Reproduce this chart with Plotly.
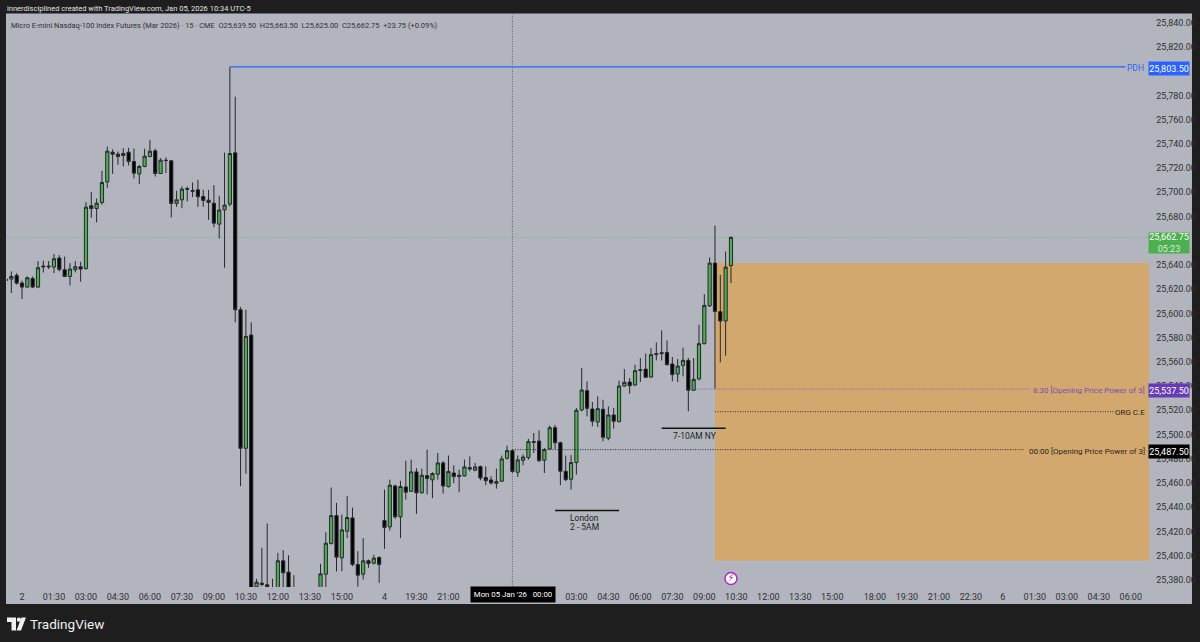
import plotly.graph_objects as go

FIRST_BAR = -3
opens = [
 25628.3,25628.3,25631.4,25625.0,25621.7,25628.9,25621.7,25639.1,25639.1,25638.2,
 25645.7,25636.0,25630.5,25636.0,25638.5,25637.1,25688.8,25686.6,25691.6,25708.6,
 25733.1,25731.5,25730.4,25733.1,25725.4,25715.2,25721.3,25729.5,25734.2,25715.5,
 25726.5,25726.0,25690.8,25693.8,25703.1,25701.5,25702.0,25696.5,25693.5,25691.0,
 25673.7,25685.5,25690.2,25732.6,25603.0,25488.6,25582.1,25374.2,25377.2,25375.9,
 25366.0,25370.0,25395.7,25386.3,25368.0,25364.0,25361.0,25358.0,25360.0,25366.0,
 25384.6,25410.0,25433.0,25398.1,25420.1,25431.1,25392.6,25384.6,25395.7,25393.7,
 25398.4,25428.9,25423.7,25457.5,25432.0,25456.7,25453.1,25469.1,25451.8,25466.0,
 25462.5,25467.2,25476.5,25457.0,25468.2,25465.2,25465.8,25472.6,25470.5,25473.5,
 25464.4,25462.5,25459.7,25461.4,25480.4,25486.7,25468.8,25478.7,25480.9,25494.1,
 25494.6,25478.7,25488.0,25505.6,25493.2,25469.6,25463.0,25476.8,25520.2,25536.2,
 25521.0,25510.3,25520.8,25496.9,25516.1,25510.6,25540.0,25543.3,25540.8,25553.5,
 25554.0,25547.4,25565.9,25566.7,25567.8,25558.2,25549.9,25557.1,25561.2,25536.5,
 25545.8,25575.0,25606.3,25641.5,25601.4,25593.7,25639.5]
highs = [
 25636.0,25634.7,25633.3,25627.0,25630.5,25630.5,25643.2,25643.5,25643.2,25649.0,
 25648.1,25647.0,25641.5,25643.2,25642.6,25691.9,25700.4,25694.9,25717.7,25737.8,
 25735.6,25733.7,25736.4,25736.7,25736.1,25722.7,25735.9,25743.3,25735.9,25728.2,
 25728.7,25726.8,25701.2,25704.8,25704.8,25708.1,25710.3,25702.0,25702.0,25705.9,
 25697.1,25732.8,25803.5,25779.0,25605.2,25603.0,25592.6,25380.8,25406.4,25426.5,
 25380.8,25402.3,25404.5,25400.3,25383.8,25369.0,25368.0,25366.0,25370.0,25393.2,
 25419.3,25456.2,25443.5,25433.9,25449.0,25439.6,25403.6,25414.4,25396.7,25400.6,
 25399.5,25454.5,25462.7,25458.6,25461.7,25478.4,25479.2,25472.1,25471.8,25487.5,
 25468.8,25484.7,25478.1,25482.6,25474.6,25471.0,25479.2,25482.0,25476.5,25474.3,
 25473.7,25465.5,25471.8,25482.6,25490.8,25487.2,25482.6,25483.4,25496.3,25501.2,
 25503.4,25488.9,25507.3,25507.9,25494.1,25482.6,25483.1,25521.9,25554.9,25543.9,
 25526.8,25531.5,25528.7,25523.2,25521.9,25544.4,25554.0,25546.6,25557.6,25563.1,
 25566.7,25571.4,25576.0,25586.0,25577.7,25564.0,25562.3,25571.7,25563.1,25563.1,
 25590.6,25615.9,25646.2,25672.6,25631.9,25651.1,25663.5]
lows = [
 25620.9,25616.8,25623.7,25611.8,25621.2,25620.9,25621.2,25633.8,25636.6,25633.3,
 25634.7,25630.0,25623.1,25633.8,25626.1,25636.0,25678.9,25675.1,25689.7,25703.7,
 25715.2,25722.7,25721.3,25722.1,25711.4,25706.7,25720.7,25729.0,25713.0,25715.2,
 25715.8,25679.2,25688.0,25686.9,25692.4,25696.0,25688.0,25688.0,25677.3,25671.2,
 25661.9,25637.7,25688.3,25592.6,25457.3,25467.7,25370.0,25372.0,25374.8,25372.0,
 25364.0,25366.0,25372.0,25365.0,25360.0,25358.0,25355.0,25352.0,25356.0,25362.0,
 25373.9,25409.1,25386.9,25387.1,25414.4,25391.2,25374.2,25380.2,25389.9,25392.6,
 25377.5,25405.5,25420.7,25430.3,25414.4,25446.2,25452.6,25434.4,25451.2,25450.4,
 25447.4,25462.7,25451.2,25456.2,25459.7,25452.3,25465.2,25469.6,25469.6,25462.2,
 25458.1,25458.6,25455.3,25460.8,25479.2,25468.2,25464.9,25474.6,25479.2,25484.7,
 25477.3,25468.2,25487.5,25488.0,25458.1,25461.4,25454.5,25466.9,25519.1,25515.0,
 25506.7,25506.2,25494.4,25495.2,25504.8,25510.0,25539.7,25533.7,25540.3,25543.3,
 25546.6,25546.9,25561.2,25561.2,25557.1,25543.9,25543.3,25548.0,25519.1,25535.9,
 25544.7,25574.4,25605.2,25537.8,25559.6,25565.1,25625.0]
closes = [
 25627.2,25630.5,25625.0,25621.7,25629.4,25621.7,25637.7,25638.5,25638.5,25645.1,
 25636.3,25630.5,25636.6,25638.5,25636.6,25687.7,25686.6,25691.0,25708.1,25733.9,
 25731.5,25729.5,25732.0,25725.4,25715.8,25721.3,25729.8,25733.9,25715.5,25726.5,
 25726.2,25690.8,25693.8,25702.6,25702.6,25700.9,25696.3,25693.3,25691.6,25674.5,
 25685.3,25689.4,25732.0,25603.0,25488.6,25581.0,25372.0,25378.0,25376.1,25374.2,
 25371.0,25395.7,25385.8,25368.0,25364.0,25361.0,25358.0,25360.0,25365.0,25384.9,
 25410.2,25433.0,25398.7,25421.2,25431.4,25392.6,25383.8,25395.7,25393.4,25397.9,
 25392.6,25423.1,25458.1,25432.0,25457.0,25452.3,25469.1,25451.8,25466.3,25463.6,
 25467.7,25476.5,25457.5,25469.4,25465.2,25466.3,25473.2,25471.5,25473.2,25464.1,
 25461.9,25460.0,25461.1,25479.8,25486.7,25469.4,25479.0,25481.4,25494.1,25493.5,
 25478.4,25487.5,25505.6,25493.2,25469.6,25462.7,25476.8,25520.0,25536.7,25521.6,
 25510.9,25521.3,25497.7,25516.1,25510.9,25540.0,25543.0,25540.3,25552.7,25552.9,
 25547.2,25565.9,25566.7,25567.5,25557.6,25549.4,25556.5,25561.2,25536.5,25545.5,
 25575.0,25606.6,25641.5,25601.6,25593.7,25638.2,25662.75]

tick_bars = [0,6,12,18,24,30,36,42,48,54,60,68,74,80,104,110,116,122,128,134,140,146,152,160,166,172,178,184,190,196,202,208]
tick_texts = ["2","01:30","03:00","04:30","06:00","07:30","09:00","10:30","12:00","13:30","15:00","4","19:30","21:00",
              "03:00","04:30","06:00","07:30","09:00","10:30","12:00","13:30","15:00","18:00","19:30","21:00","22:30","6","01:30","03:00","04:30","06:00"]
price_ticks = [25380,25400,25420,25440,25460,25480,25500,25520,25540,25560,25580,25600,25620,25640,
               25680,25700,25720,25740,25760,25780,25820,25840]

PDH = 25803.5
LAST = 25662.75
OPEN_830 = 25537.5
OPEN_00 = 25487.5
ORG_CE = 25518.8
ZONE_TOP = 25641.5
ZONE_BOTTOM = 25396.0
LONDON_PRICE = 25437.2
NY_PRICE = 25505.2
CROSS_BAR = 92
ZONE_BAR = 130
PDH_BAR = 39

L, R, T, B = 7, 1149.5, 14, 587.5
def px(x): return (x - L) / (R - L)
def py(y): return (B - y) / (B - T)

bars = list(range(FIRST_BAR, FIRST_BAR + len(opens)))
NARROW = "Liberation Sans Narrow, Roboto"
FONT = "Roboto"
TICK = "#2f3136"
FINE_DOT = "1px,1.5px"

fig = go.Figure()
fig.add_trace(go.Candlestick(
    x=bars, open=opens, high=highs, low=lows, close=closes,
    increasing=dict(line=dict(color="#26282c", width=1), fillcolor="#4caf50"),
    decreasing=dict(line=dict(color="#26282c", width=1), fillcolor="#000000"),
    whiskerwidth=0, showlegend=False, hoverinfo="skip"))
fig.add_trace(go.Scatter(
    x=[133], y=[25381], mode="markers+text", text=["⚡"], textposition="middle center",
    textfont=dict(size=10, color="#b026c9", family="DejaVu Sans"),
    marker=dict(size=12, color="white", line=dict(color="#b026c9", width=1.5)),
    showlegend=False, hoverinfo="skip", cliponaxis=False))

shapes = []
shapes.append(dict(type="rect", xref="paper", yref="paper", x0=px(6), x1=px(1192.5), y0=py(604.5), y1=py(13.5),
                   fillcolor="#b2b5be", line=dict(color="#b2b5be", width=0), layer="below"))
shapes.append(dict(type="rect", xref="x", yref="y", x0=ZONE_BAR, x1=212, y0=ZONE_BOTTOM, y1=ZONE_TOP,
                   fillcolor="#d2a86e", line=dict(width=0), layer="below"))
shapes.append(dict(type="line", xref="x", yref="paper", x0=CROSS_BAR, x1=CROSS_BAR, y0=0, y1=1,
                   line=dict(color="#5d6068", width=1, dash=FINE_DOT), layer="below"))
shapes.append(dict(type="line", xref="paper", yref="y", x0=0, x1=1, y0=LAST, y1=LAST,
                   line=dict(color="#6fc07a", width=1, dash=FINE_DOT), layer="below"))
shapes.append(dict(type="line", xref="x", yref="y", x0=PDH_BAR, x1=207, y0=PDH, y1=PDH,
                   line=dict(color="#2962ff", width=1.2)))
shapes.append(dict(type="line", xref="x", yref="y", x0=126.5, x1=189, y0=OPEN_830, y1=OPEN_830,
                   line=dict(color="#8e5bc4", width=1, dash=FINE_DOT)))
shapes.append(dict(type="line", xref="x", yref="y", x0=130, x1=205, y0=ORG_CE, y1=ORG_CE,
                   line=dict(color="#2e2a25", width=1, dash=FINE_DOT)))
shapes.append(dict(type="line", xref="x", yref="y", x0=CROSS_BAR, x1=188, y0=OPEN_00, y1=OPEN_00,
                   line=dict(color="#2e2a25", width=1, dash=FINE_DOT)))
shapes.append(dict(type="line", xref="x", yref="y", x0=100, x1=112, y0=LONDON_PRICE, y1=LONDON_PRICE,
                   line=dict(color="#111111", width=1.5)))
shapes.append(dict(type="line", xref="x", yref="y", x0=120, x1=132, y0=NY_PRICE, y1=NY_PRICE,
                   line=dict(color="#111111", width=1.5)))
def poly(pts):
    return "M " + " L ".join(f"{px(a):.5f},{py(b):.5f}" for a, b in pts) + " Z"
glyph = poly([(7,618),(16,618),(16,631),(11.5,631),(11.5,622.5),(7,622.5)]) + " " + \
        poly([(21.5,618),(26,618),(21,631),(16.5,631)])
shapes.append(dict(type="path", xref="paper", yref="paper", path=glyph, fillcolor="#f0f0f0", line=dict(width=0)))
shapes.append(dict(type="circle", xref="paper", yref="paper", x0=px(16.8), x1=px(21), y0=py(622.4), y1=py(618),
                   fillcolor="#f0f0f0", line=dict(width=0)))

def note(text, x, y, size=8, color="#2a2a2a", anchor="left", font=FONT):
    return dict(text=text, xref="paper", yref="paper", x=px(x), y=py(y), xanchor=anchor, yanchor="middle",
                showarrow=False, font=dict(family=font, size=size, color=color))
def badge(text, y, bg, h=13):
    return dict(text=text, xref="paper", yref="paper", x=px(1170), y=py(y), xanchor="center", yanchor="middle",
                showarrow=False, bgcolor=bg, width=40, height=h, borderpad=0,
                font=dict(family=NARROW, size=9, color="white"))
def dnote(text, bar, price, size=8.5):
    return dict(text=text, xref="x", yref="y", x=bar, y=price, xanchor="center", yanchor="middle",
                showarrow=False, font=dict(family=FONT, size=size, color="#1f1f1f"))

anns = [
    note("innerdisciplined created with TradingView.com, Jan 05, 2026 10:34 UTC-5", 4.5, 8.5, size=7.5, color="#e4e4e4"),
    note("Micro E-mini Nasdaq-100 Index Futures (Mar 2026) · 15 · CME&nbsp;&nbsp;O25,639.50&nbsp;&nbsp;H25,663.50&nbsp;&nbsp;L25,625.00&nbsp;&nbsp;C25,662.75&nbsp;&nbsp;+23.75 (+0.09%)",
         9.5, 26, size=7.45, color="#2f3136"),
    note("PDH", 1146, 68.5, size=8.5, color="#2962ff", anchor="right"),
    note("8:30 [Opening Price Power of 3]", 1147, 390.5, size=8, color="#7e4bb8", anchor="right"),
    note("ORG C.E", 1147.5, 412.5, size=8, color="#2a2620", anchor="right"),
    note("00:00 [Opening Price Power of 3]", 1147, 451.5, size=8, color="#2a2620", anchor="right"),
    badge("25,803.50", 68.5, "#2962ff"),
    badge("25,662.75<br><span style='color:#d8f0d8'>05:23</span>", 243, "#4caf50", h=20),
    badge("25,537.50", 390.5, "#673ab7"),
    badge("25,487.50", 451.5, "#000000"),
    dict(text="Mon 05 Jan '26&nbsp;&nbsp;&nbsp;00:00", xref="paper", yref="paper", x=px(513), y=py(595), xanchor="center",
         yanchor="middle", showarrow=False, bgcolor="#000000", width=84, height=15, borderpad=0,
         font=dict(family=FONT, size=7.8, color="white")),
    dnote("London", 105.5, 25431),
    dnote("2 - 5AM", 105.5, 25424),
    dnote("7-10AM NY", 126.2, 25498.5),
    note("TradingView", 28, 624.5, size=13.5, color="#f0f0f0"),
]

fig.update_layout(
    width=1200, height=642, margin=dict(l=L, r=1200 - R, t=T, b=642 - B, pad=0),
    paper_bgcolor="#1e1e1e", plot_bgcolor="rgba(0,0,0,0)", boxgap=0.15,
    shapes=shapes, annotations=anns, showlegend=False, autosize=False,
    xaxis=dict(automargin=False, range=[(L - 22) / 5.333, (R - 22) / 5.333], rangeslider=dict(visible=False), showgrid=False, zeroline=False,
               tickmode="array", tickvals=tick_bars, ticktext=tick_texts, ticks="outside", ticklen=1,
               tickcolor="rgba(0,0,0,0)", tickfont=dict(family=NARROW, size=9, color=TICK), showline=False),
    yaxis=dict(automargin=False, range=[25820 - (B - 47) / 1.212, 25820 - (T - 47) / 1.212], side="right", showgrid=False, zeroline=False,
               tickmode="array", tickvals=price_ticks, tickformat=",.2f", ticks="outside", ticklen=4.5,
               tickcolor="rgba(0,0,0,0)", tickfont=dict(family=NARROW, size=9, color=TICK), showline=False),
)
fig.write_html("out.html", config=dict(displayModeBar=False),
               post_script="document.body.style.margin='0';document.body.style.background='#1e1e1e';")
